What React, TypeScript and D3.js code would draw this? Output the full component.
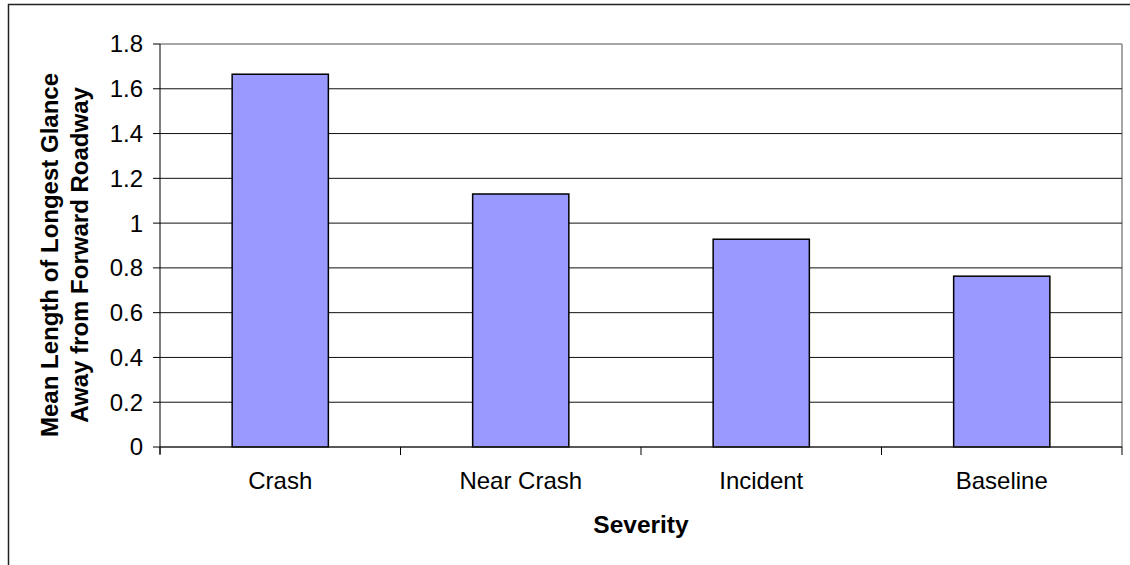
import * as d3 from "d3"

const categories = ["Crash", "Near Crash", "Incident", "Baseline"]
const values = [1.665, 1.13, 0.928, 0.763]
const yTicks = [0, 0.2, 0.4, 0.6, 0.8, 1, 1.2, 1.4, 1.6, 1.8]

const W = 1130
const H = 565
const margin = { top: 44, right: 8, bottom: 118, left: 160 }
const FONT = "'Liberation Sans', Arial, sans-serif"

export default function App() {
  const plotW = W - margin.left - margin.right
  const plotH = H - margin.top - margin.bottom

  const x = d3
    .scaleBand<string>()
    .domain(categories)
    .range([0, plotW])
    .paddingInner(0.6)
    .paddingOuter(0.3)

  const y = d3.scaleLinear().domain([0, 1.8]).range([plotH, 0])

  const boundaries = d3.range(categories.length + 1).map((i) => i * x.step())

  return (
    <div style={{ position: "absolute", left: 0, top: 0 }}>
      <svg width={W} height={H} style={{ display: "block", background: "#fff" }}>
        {/* outer chart border */}
        <rect x={8.5} y={4.5} width={W + 10} height={H + 10} fill="none" stroke="#222" strokeWidth={1.5} />
        <g transform={`translate(${margin.left},${margin.top})`}>
          {/* plot area frame (top / right) */}
          <line x1={0} x2={plotW} y1={0} y2={0} stroke="#888" strokeWidth={1.5} />
          <line x1={plotW} x2={plotW} y1={0} y2={plotH} stroke="#888" strokeWidth={1.5} />
          {/* gridlines */}
          {yTicks
            .filter((t) => t > 0 && t < 1.8)
            .map((t) => (
              <line key={t} x1={0} x2={plotW} y1={y(t)} y2={y(t)} stroke="#111" strokeWidth={1} />
            ))}
          {/* bars */}
          {categories.map((c, i) => (
            <rect
              key={c}
              x={x(c)}
              y={y(values[i])}
              width={x.bandwidth()}
              height={plotH - y(values[i])}
              fill="#9999ff"
              stroke="#000"
              strokeWidth={1.5}
            />
          ))}
          {/* y axis */}
          <line x1={0} x2={0} y1={0} y2={plotH + 7} stroke="#000" strokeWidth={1} />
          {yTicks.map((t) => (
            <g key={t} transform={`translate(0,${y(t)})`}>
              <line x1={-7} x2={0} stroke="#000" strokeWidth={1} />
              <text
                x={-17}
                dy="0.35em"
                textAnchor="end"
                fontFamily={FONT}
                fontSize={24}
                fill="#000"
              >
                {d3.format("~g")(t)}
              </text>
            </g>
          ))}
          {/* x axis */}
          <line x1={0} x2={plotW} y1={plotH} y2={plotH} stroke="#222" strokeWidth={1.5} />
          {boundaries.map((b) => (
            <line key={b} x1={b} x2={b} y1={plotH} y2={plotH + 8} stroke="#000" strokeWidth={1} />
          ))}
          {categories.map((c) => (
            <text
              key={c}
              x={x(c)! + x.bandwidth() / 2}
              y={plotH + 42}
              textAnchor="middle"
              fontFamily={FONT}
              fontSize={24}
              fill="#000"
            >
              {c}
            </text>
          ))}
          <text
            x={plotW / 2}
            y={plotH + 86}
            textAnchor="middle"
            fontFamily={FONT}
            fontSize={24.5}
            fontWeight="bold"
            fill="#000"
          >
            Severity
          </text>
        </g>
        {/* y axis title */}
        <g transform={`translate(0,${255}) rotate(-90)`}>
          <text x={0} y={58} textAnchor="middle" fontFamily={FONT} fontSize={24} fontWeight="bold" fill="#000">
            Mean Length of Longest Glance
          </text>
          <text x={0} y={88} textAnchor="middle" fontFamily={FONT} fontSize={24} fontWeight="bold" fill="#000">
            Away from Forward Roadway
          </text>
        </g>
      </svg>
    </div>
  )
}
